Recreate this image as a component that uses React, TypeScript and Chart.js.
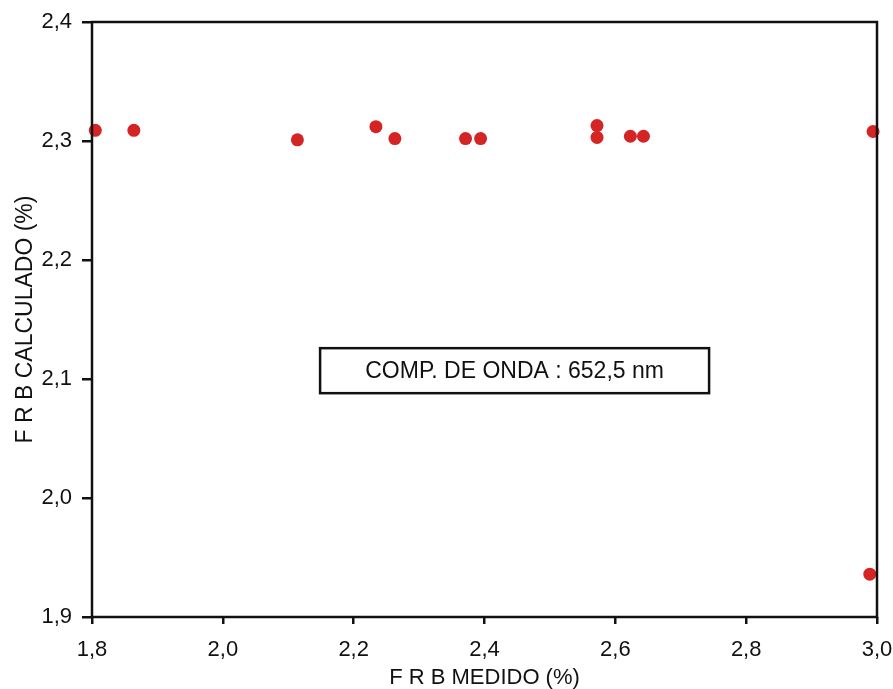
import React, { useEffect, useRef } from "react";
import { Chart, registerables } from "chart.js";

Chart.register(...registerables);

const xValues = [1.805, 1.864, 2.114, 2.234, 2.263, 2.371, 2.394, 2.572, 2.572, 2.623, 2.643, 2.994, 2.989];
const yValues = [2.309, 2.309, 2.301, 2.312, 2.302, 2.302, 2.302, 2.313, 2.303, 2.304, 2.304, 2.308, 1.936];
const xTicks = [1.8, 2.0, 2.2, 2.4, 2.6, 2.8, 3.0];
const yTicks = [1.9, 2.0, 2.1, 2.2, 2.3, 2.4];
const annotationText = "COMP. DE ONDA : 652,5 nm";
const annotationX = 2.446;
const annotationY = 2.107;
const xTitle = "F R B MEDIDO (%)";
const yTitle = "F R B CALCULADO (%)";

const FONT = "'Liberation Sans', Arial, sans-serif";

const fmt = (v: number) => v.toFixed(1).replace(".", ",");

export default function App() {
  const ref = useRef<HTMLCanvasElement | null>(null);

  useEffect(() => {
    document.body.style.margin = "0";
    const canvas = ref.current;
    if (!canvas) return;

    const framePlugin = {
      id: "frame",
      afterDraw(chart: any) {
        const { ctx, chartArea } = chart;
        ctx.save();
        ctx.strokeStyle = "#111";
        ctx.lineWidth = 2.5;
        ctx.strokeRect(chartArea.left, chartArea.top, chartArea.right - chartArea.left, chartArea.bottom - chartArea.top);
        const xs = chart.scales.x;
        const ys = chart.scales.y;
        const cx = xs.getPixelForValue(annotationX);
        const cy = ys.getPixelForValue(annotationY);
        const w = 389;
        const h = 45;
        ctx.fillStyle = "#fff";
        ctx.fillRect(cx - w / 2, cy - h / 2, w, h);
        ctx.lineWidth = 2.5;
        ctx.strokeRect(cx - w / 2, cy - h / 2, w, h);
        ctx.fillStyle = "#111";
        ctx.font = `23px ${FONT}`;
        ctx.textAlign = "center";
        ctx.textBaseline = "middle";
        ctx.fillText(annotationText, cx, cy + 1);
        ctx.restore();
      },
    };

    const chart = new Chart(canvas, {
      type: "scatter",
      data: {
        datasets: [
          {
            data: xValues.map((x, i) => ({ x, y: yValues[i] })),
            backgroundColor: "#d42424",
            borderColor: "#d42424",
            pointRadius: 6.5,
            pointHoverRadius: 6.5,
            borderWidth: 0,
            clip: false as any,
          },
        ],
      },
      options: {
        animation: false,
        responsive: false,
        maintainAspectRatio: false,
        layout: { padding: { top: 22, right: 16, left: 0, bottom: 0 } },
        plugins: {
          legend: { display: false },
          tooltip: { enabled: false },
        },
        scales: {
          x: {
            type: "linear",
            min: 1.8,
            max: 3.0,
            afterBuildTicks: (scale: any) => {
              scale.ticks = xTicks.map((v) => ({ value: v }));
            },
            afterFit: (scale: any) => {
              scale.height = 72;
              scale.paddingLeft = 0;
              scale.paddingRight = 0;
            },
            ticks: {
              callback: (v: any) => fmt(Number(v)),
              color: "#111",
              font: { family: FONT, size: 22 },
              padding: 13,
              maxRotation: 0,
            },
            grid: { drawOnChartArea: false, drawTicks: true, tickLength: 7, color: "#111", lineWidth: 2.5 },
            border: { display: false },
            title: {
              display: true,
              text: xTitle,
              color: "#111",
              font: { family: FONT, size: 22 },
              padding: { top: 0, bottom: -2 },
            },
          },
          y: {
            type: "linear",
            min: 1.9,
            max: 2.4,
            afterBuildTicks: (scale: any) => {
              scale.ticks = yTicks.map((v) => ({ value: v }));
            },
            afterFit: (scale: any) => {
              scale.width = 92;
              scale.paddingTop = 0;
              scale.paddingBottom = 0;
            },
            ticks: {
              callback: (v: any) => fmt(Number(v)),
              color: "#111",
              font: { family: FONT, size: 22 },
              padding: 10,
            },
            grid: { drawOnChartArea: false, drawTicks: true, tickLength: 10, color: "#111", lineWidth: 2.5 },
            border: { display: false },
            title: {
              display: true,
              text: yTitle,
              color: "#111",
              font: { family: FONT, size: 23 },
              padding: { top: 12, bottom: 0 },
            },
          },
        },
      },
      plugins: [framePlugin],
    });

    return () => chart.destroy();
  }, []);

  return (
    <div style={{ width: 893, height: 689, background: "#fff" }}>
      <canvas ref={ref} width={893} height={689} style={{ display: "block" }} />
    </div>
  );
}
